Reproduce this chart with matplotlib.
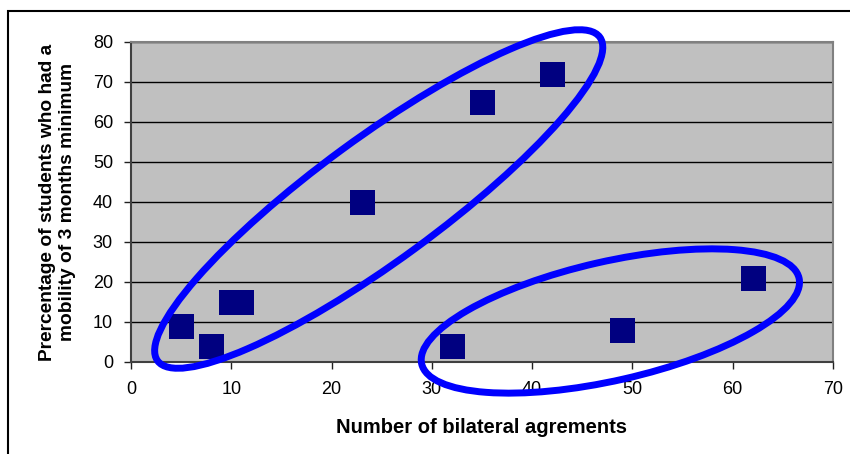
import matplotlib
matplotlib.use("Agg")
import matplotlib.pyplot as plt
from matplotlib.patches import Ellipse, Rectangle
from matplotlib.transforms import ScaledTranslation
from matplotlib import font_manager

# Data: bilateral agreements vs share of students with a mobility of 3+ months
agreements = [5, 8, 10, 11, 23, 35, 42, 32, 49, 62]
percentage = [9, 4, 15, 15, 40, 65, 72, 4, 8, 21]

x_ticks = [0, 10, 20, 30, 40, 50, 60, 70]
y_ticks = [0, 10, 20, 30, 40, 50, 60, 70, 80]

# Grouping ellipses: centre (data units), width/height (inches), angle (deg)
groups = [
    ((24.7, 40.75), 5.48, 1.23, 36.2),
    ((47.8, 10.25), 3.87, 1.19, 12.8),
]

names = {f.name for f in font_manager.fontManager.ttflist}
narrow = "Liberation Sans Narrow" if "Liberation Sans Narrow" in names else "Liberation Sans"
plt.rcParams["font.family"] = [narrow, "DejaVu Sans"]

fig = plt.figure(figsize=(8.5, 4.54), dpi=100)
ax = fig.add_axes([131 / 850, 1 - 362 / 454, 702 / 850, 320 / 454])

ax.set_facecolor("#C0C0C0")
ax.set_xlim(0, 70)
ax.set_ylim(0, 80)
ax.set_xticks(x_ticks)
ax.set_yticks(y_ticks)
ax.yaxis.grid(True, color="black", linewidth=1.0)
ax.set_axisbelow(True)

for side in ("top", "right"):
    ax.spines[side].set_color("#808080")
    ax.spines[side].set_linewidth(1.5)
for side in ("left", "bottom"):
    ax.spines[side].set_color("#404040")
    ax.spines[side].set_linewidth(1.5)

ax.tick_params(axis="both", direction="out", length=5, width=1.0,
               color="#202020", labelsize=13, labelcolor="black")
ax.tick_params(axis="y", pad=8)
ax.tick_params(axis="x", pad=9)

ax.plot(agreements, percentage, linestyle="none", marker="s",
        markersize=18, markerfacecolor="#000080", markeredgewidth=0,
        zorder=3)

for (cx, cy), w, h, ang in groups:
    tr = fig.dpi_scale_trans + ScaledTranslation(cx, cy, ax.transData)
    e = Ellipse((0, 0), w, h, angle=ang, transform=tr, fill=False,
                edgecolor="#0000FF", linewidth=5.0, clip_on=False, zorder=4)
    ax.add_artist(e)

ax.set_xlabel("Number of bilateral agrements", fontsize=14.5,
              fontweight="bold", family=["Liberation Sans", "DejaVu Sans"],
              labelpad=14)
ax.set_ylabel("Prercentage of students who had a\nmobility of 3 months minimum",
              fontsize=13.8, fontweight="bold",
              family=["Liberation Sans", "DejaVu Sans"], labelpad=12,
              linespacing=1.25)

# Outer chart frame
frame = Rectangle((8 / 850, -0.1), 1.0, 1 - 10.5 / 454 + 0.1,
                  transform=fig.transFigure, fill=False,
                  edgecolor="black", linewidth=1.5, clip_on=False)
fig.add_artist(frame)

fig.savefig("out.png", dpi=100)
